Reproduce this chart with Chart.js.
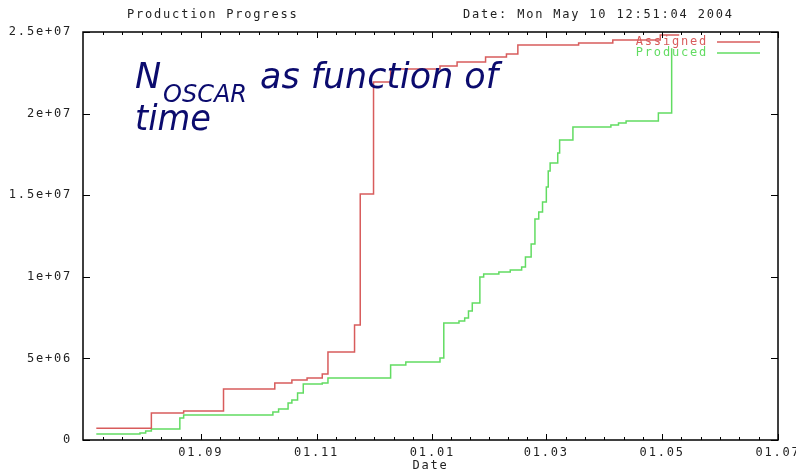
<!DOCTYPE html>
<html>
<head>
<meta charset="utf-8">
<title>Production Progress</title>
<script src="https://cdn.jsdelivr.net/npm/chart.js@4/dist/chart.umd.min.js"></script>
<style>
  html, body { margin: 0; padding: 0; background: #fff; }
  #wrap { width: 796px; height: 471px; }
</style>
</head>
<body>
<div id="wrap"><canvas id="progressChart" width="796" height="471"></canvas></div>
<script>
// x axis runs from 01.07.2003 to 01.07.2004, in days
const axisStart = '2003-07-01';
const axisEnd = '2004-07-01';

const assignedDates = ['2003-07-08', '2003-08-06', '2003-08-23', '2003-09-13', '2003-10-10',
    '2003-10-19', '2003-10-27', '2003-11-04', '2003-11-07', '2003-11-21', '2003-11-24',
    '2003-12-01', '2003-12-10', '2004-01-05', '2004-01-14', '2004-01-29', '2004-02-09',
    '2004-02-15', '2004-03-18', '2004-04-05', '2004-04-30', '2004-05-10'];
const assignedValues = [720000, 1650000, 1780000, 3120000, 3490000,
    3680000, 3800000, 4040000, 5390000, 7050000, 15070000,
    21940000, 22730000, 22920000, 23160000, 23470000, 23650000,
    24200000, 24330000, 24510000, 24820000, 24820000];

const producedDates = ['2003-07-08', '2003-07-31', '2003-08-03', '2003-08-06', '2003-08-21',
    '2003-08-23', '2003-10-09', '2003-10-12', '2003-10-17', '2003-10-19', '2003-10-22',
    '2003-10-25', '2003-11-04', '2003-11-07', '2003-12-10', '2003-12-18', '2004-01-05',
    '2004-01-07', '2004-01-15', '2004-01-18', '2004-01-20', '2004-01-22', '2004-01-26',
    '2004-01-28', '2004-02-05', '2004-02-11', '2004-02-17', '2004-02-19', '2004-02-22',
    '2004-02-24', '2004-02-26', '2004-02-28', '2004-03-01', '2004-03-02', '2004-03-03',
    '2004-03-07', '2004-03-08', '2004-03-15', '2004-04-04', '2004-04-08', '2004-04-12',
    '2004-04-29', '2004-05-06'];
const producedValues = [370000, 430000, 550000, 670000, 1350000,
    1530000, 1720000, 1900000, 2270000, 2450000, 2880000,
    3430000, 3490000, 3800000, 4600000, 4780000, 5020000,
    7170000, 7290000, 7480000, 7900000, 8390000, 9990000,
    10170000, 10290000, 10420000, 10600000, 11210000, 12010000,
    13540000, 13970000, 14580000, 15500000, 16480000, 16970000,
    17590000, 18380000, 19180000, 19300000, 19420000, 19550000,
    20040000, 24000000];

const xTickDates = ['2003-09-01', '2003-11-01', '2004-01-01', '2004-03-01', '2004-05-01', '2004-07-01'];
const xTickLabels = ['01.09', '01.11', '01.01', '01.03', '01.05', '01.07'];
const yTickValues = [0, 5e6, 1e7, 1.5e7, 2e7, 2.5e7];
const yTickLabels = ['0', '5e+06', '1e+07', '1.5e+07', '2e+07', '2.5e+07'];

const assignedColor = '#d85c5c';
const producedColor = '#62dc62';
const monoFont = '"DejaVu Sans Mono", "Liberation Mono", monospace';
const noteFont = '"DejaVu Sans", Lato, sans-serif';

function dayOf(dateStr) {
    return Math.round((Date.parse(dateStr) - Date.parse(axisStart)) / 86400000);
}

function toPoints(dates, values) {
    return dates.map((d, i) => ({ x: dayOf(d), y: values[i] }));
}

const majorDays = xTickDates.map(dayOf);

// six minor divisions between labelled ticks, as on the original plot
function buildXTicks() {
    const bounds = [0, ...majorDays];
    const ticks = [];
    for (let i = 1; i < bounds.length; i++) {
        const a = bounds[i - 1], b = bounds[i];
        for (let k = 1; k < 6; k++) {
            ticks.push({ value: a + (b - a) * k / 6, major: false });
        }
        ticks.push({ value: b, major: true });
    }
    return ticks;
}

const framePlugin = {
    id: 'gnuplotFrame',
    beforeDraw(chart) {
        chart.ctx.letterSpacing = '1.8px';
    },
    afterDatasetsDraw(chart) {
        const { ctx, chartArea: a, scales } = chart;
        ctx.save();

        // border and inward tick marks
        ctx.strokeStyle = '#000';
        ctx.lineWidth = 1.5;
        ctx.strokeRect(a.left, a.top, a.right - a.left, a.bottom - a.top);
        ctx.lineWidth = 1;
        ctx.beginPath();
        scales.x.ticks.forEach(t => {
            const px = Math.round(scales.x.getPixelForValue(t.value)) + 0.5;
            const len = t.major ? 6 : 3;
            ctx.moveTo(px, a.bottom);
            ctx.lineTo(px, a.bottom - len);
            ctx.moveTo(px, a.top);
            ctx.lineTo(px, a.top + len);
        });
        scales.y.ticks.forEach(t => {
            const py = Math.round(scales.y.getPixelForValue(t.value)) + 0.5;
            ctx.moveTo(a.left, py);
            ctx.lineTo(a.left + 7, py);
            ctx.moveTo(a.right, py);
            ctx.lineTo(a.right - 7, py);
        });
        ctx.stroke();

        // header
        ctx.font = '12px ' + monoFont;
        ctx.fillStyle = '#222';
        ctx.textBaseline = 'middle';
        ctx.textAlign = 'left';
        ctx.fillText('Production Progress', 127, 15);
        ctx.fillText('Date: Mon May 10 12:51:04 2004', 463, 15);

        // legend, top right inside the frame
        const legend = [
            { text: 'Assigned', color: assignedColor, y: 42 },
            { text: 'Produced', color: producedColor, y: 53 }
        ];
        ctx.textAlign = 'right';
        ctx.lineWidth = 1.5;
        legend.forEach(item => {
            ctx.fillStyle = item.color;
            ctx.fillText(item.text, 708, item.y);
            ctx.strokeStyle = item.color;
            ctx.beginPath();
            ctx.moveTo(717, item.y);
            ctx.lineTo(760, item.y);
            ctx.stroke();
        });

        // slide annotation
        ctx.letterSpacing = '0px';
        ctx.fillStyle = '#0b0b6e';
        ctx.textAlign = 'left';
        ctx.textBaseline = 'alphabetic';
        ctx.font = 'italic 35px ' + noteFont;
        ctx.fillText('N', 135, 88);
        ctx.fillText('as function of', 260, 88, 238);
        ctx.fillText('time', 135, 130, 76);
        ctx.font = 'italic 24px ' + noteFont;
        ctx.fillText('OSCAR', 163, 102, 86);

        ctx.restore();
    }
};

const config = {
    type: 'line',
    data: {
        datasets: [{
            label: 'Assigned',
            data: toPoints(assignedDates, assignedValues),
            borderColor: assignedColor,
            borderWidth: 1.5,
            stepped: 'before',
            pointRadius: 0,
            fill: false
        }, {
            label: 'Produced',
            data: toPoints(producedDates, producedValues),
            borderColor: producedColor,
            borderWidth: 1.5,
            stepped: 'before',
            pointRadius: 0,
            fill: false
        }]
    },
    options: {
        responsive: false,
        animation: false,
        devicePixelRatio: 1,
        layout: {
            padding: { top: 32, right: 18, bottom: 0, left: 0 }
        },
        plugins: {
            legend: { display: false },
            tooltip: { enabled: false }
        },
        scales: {
            x: {
                type: 'linear',
                min: 0,
                max: dayOf(axisEnd),
                grid: { display: false, drawTicks: false },
                border: { display: false },
                afterBuildTicks: scale => { scale.ticks = buildXTicks(); },
                afterFit: scale => {
                    scale.height = 31;
                    scale.paddingLeft = 0;
                    scale.paddingRight = 0;
                },
                ticks: {
                    autoSkip: false,
                    maxRotation: 0,
                    padding: 6,
                    color: '#222',
                    font: { family: monoFont, size: 12 },
                    callback: value => {
                        const i = majorDays.indexOf(value);
                        return i >= 0 ? xTickLabels[i] : '';
                    }
                },
                title: {
                    display: true,
                    text: 'Date',
                    color: '#222',
                    padding: 0,
                    font: { family: monoFont, size: 12, lineHeight: 0.9 }
                }
            },
            y: {
                min: 0,
                max: 2.5e7,
                grid: { display: false, drawTicks: false },
                border: { display: false },
                afterBuildTicks: scale => {
                    scale.ticks = yTickValues.map(v => ({ value: v }));
                },
                afterFit: scale => {
                    scale.width = 83;
                    scale.paddingTop = 0;
                    scale.paddingBottom = 0;
                },
                ticks: {
                    autoSkip: false,
                    padding: 11,
                    color: '#222',
                    font: { family: monoFont, size: 12 },
                    callback: value => {
                        const i = yTickValues.indexOf(value);
                        return i >= 0 ? yTickLabels[i] : '';
                    }
                }
            }
        }
    },
    plugins: [framePlugin]
};

const ctx = document.getElementById('progressChart').getContext('2d');
new Chart(ctx, config);
</script>
</body>
</html>
